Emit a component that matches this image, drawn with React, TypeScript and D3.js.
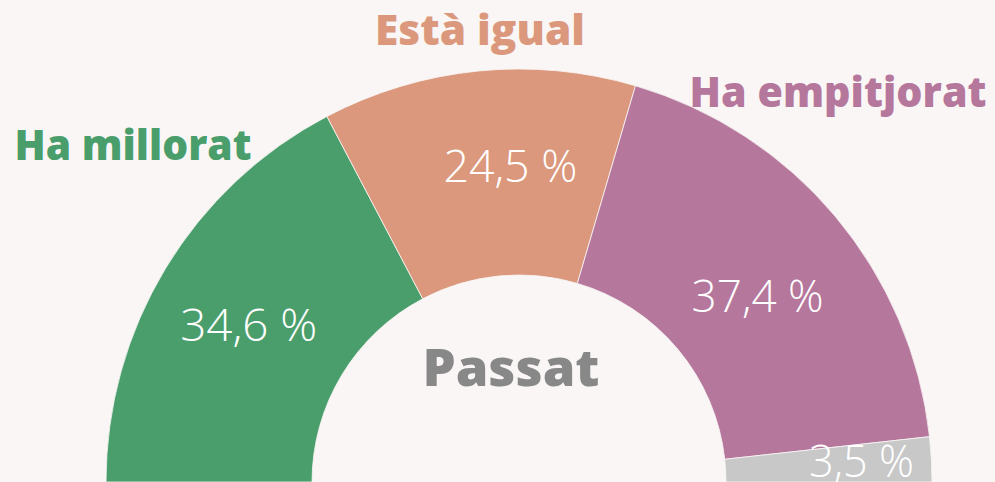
import React from "react";
import * as d3 from "d3";

const categories = ["Ha millorat", "Està igual", "Ha empitjorat", "NS/NC"];
const values = [34.6, 24.5, 37.4, 3.5];
const valueLabels = ["34,6 %", "24,5 %", "37,4 %", "3,5 %"];
const colors = ["#4a9e6c", "#db987d", "#b6779c", "#c8c8c8"];
const centerTitle = "Passat";

const W = 995;
const H = 482;
const BG = "#f9f6f5";

export default function App() {
  const cx = 519;
  const cy = 482;
  const outerR = 413;
  const innerR = 207;

  const pie = d3
    .pie<number>()
    .sort(null)
    .startAngle(-Math.PI / 2)
    .endAngle(Math.PI / 2)(values);

  const arc = d3.arc<d3.PieArcDatum<number>>().innerRadius(innerR).outerRadius(outerR);

  const titleLayout = [
    { x: 133, y: 160, len: 237 },
    { x: 480, y: 45, len: 210 },
    { x: 838, y: 107, len: 297 },
  ];
  const valueOffset = [
    { dx: -5, dy: 19, len: 137 },
    { dx: 22, dy: 8, len: 134 },
    { dx: 1, dy: 29, len: 132 },
    { dx: 33, dy: 12, len: 105 },
  ];

  return (
    <div style={{ position: "fixed", left: 0, top: 0, width: W, height: H, background: BG }}>
      <svg width={W} height={H} style={{ display: "block" }}>
        <rect width={W} height={H} fill={BG} />
        <g transform={`translate(${cx},${cy})`}>
          {pie.map((d, i) => (
            <path key={i} d={arc(d) || ""} fill={colors[i]} stroke={BG} strokeWidth={0.8} />
          ))}
          {pie.map((d, i) => {
            const [x, y] = arc.centroid(d);
            const o = valueOffset[i];
            return (
              <text
                key={"v" + i}
                x={x + o.dx}
                y={y + o.dy}
                textAnchor="middle"
                fill="#ffffff"
                fontFamily="'Open Sans', sans-serif"
                fontWeight={300}
                fontSize={44}
                textLength={o.len}
                lengthAdjust="spacingAndGlyphs"
              >
                {valueLabels[i]}
              </text>
            );
          })}
        </g>
        {titleLayout.map((t, i) => (
          <text
            key={"t" + i}
            x={t.x}
            y={t.y}
            textAnchor="middle"
            fill={colors[i]}
            fontFamily="'Open Sans', sans-serif"
            fontWeight={800}
            fontSize={42}
            textLength={t.len}
            lengthAdjust="spacingAndGlyphs"
          >
            {categories[i]}
          </text>
        ))}
        <text
          x={511}
          y={386}
          textAnchor="middle"
          fill="#888888"
          fontFamily="'Open Sans', sans-serif"
          fontWeight={800}
          fontSize={52}
          textLength={177}
          lengthAdjust="spacingAndGlyphs"
        >
          {centerTitle}
        </text>
      </svg>
    </div>
  );
}
